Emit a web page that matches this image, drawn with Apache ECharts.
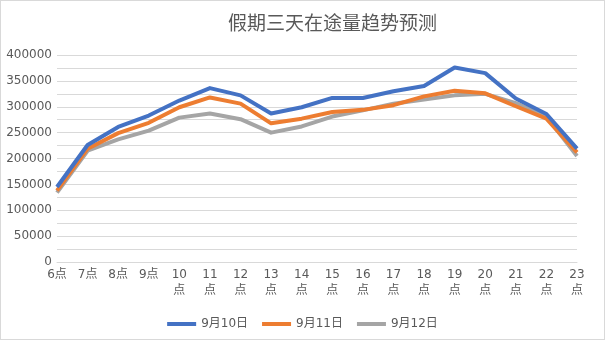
<!DOCTYPE html>
<html>
<head>
<meta charset="utf-8">
<script src="https://cdn.jsdelivr.net/npm/echarts@6/dist/echarts.min.js"></script>
<style>
html,body{margin:0;padding:0;background:#fff;}
#c{width:603px;height:338px;border:1px solid #D9D9D9;}
</style>
</head>
<body>
<div id="c"></div>
<script>
var titleText = '假期三天在途量趋势预测';
var categories = ['6点','7点','8点','9点','10点','11点','12点','13点','14点','15点','16点','17点','18点','19点','20点','21点','22点','23点'];
var seriesNames = ['9月10日','9月11日','9月12日'];
var sep10 = [145000,226000,261000,283000,312000,336000,322000,287000,299000,317000,317000,330000,340000,376000,365000,316000,286000,219000];
var sep11 = [138000,219000,249000,269000,299000,318000,306000,268000,277000,290000,294000,303000,320000,331000,326000,301000,277000,212000];
var sep12 = [134000,215000,237000,254000,279000,287000,276000,250000,262000,281000,293000,306000,314000,322000,325000,307000,281000,205000];
var colors = ['#4472C4','#ED7D31','#A5A5A5'];
var yTicks = {min:0, max:400000, interval:50000};

var chart = echarts.init(document.getElementById('c'));
var font = '"DejaVu Sans", "Noto Sans CJK SC", sans-serif';
var cjk = '"Noto Sans CJK SC", sans-serif';
var data = [sep10, sep11, sep12];
chart.setOption({
  animation:false,
  title:{text:titleText,left:222,top:7,textStyle:{fontFamily:cjk,fontSize:19,fontWeight:'normal',color:'#595959'}},
  grid:{left:56,right:27,top:54,bottom:77},
  legend:{bottom:4,left:'center',itemWidth:29,itemHeight:4,itemGap:14,icon:'rect',
    textStyle:{fontFamily:font,fontSize:12,color:'#595959'},data:seriesNames},
  xAxis:{type:'category',data:categories,boundaryGap:false,
    axisLine:{lineStyle:{color:'#D9D9D9'}},axisTick:{show:false},
    axisLabel:{interval:0,margin:5,fontFamily:font,fontSize:12,color:'#595959',lineHeight:16,
      formatter:function(v){return v.length>2? v.slice(0,v.length-1)+'\n'+v.slice(-1): v;}}},
  yAxis:{type:'value',min:yTicks.min,max:yTicks.max,interval:yTicks.interval,
    axisLine:{show:false},axisTick:{show:false},
    axisLabel:{margin:5,fontFamily:font,fontSize:12,color:'#595959',formatter:function(v){return String(v);}},
    splitLine:{lineStyle:{color:'#D9D9D9'}},
    minorTick:{show:false,splitNumber:2},
    minorSplitLine:{show:true,lineStyle:{color:'#D9D9D9'}}},
  series:seriesNames.map(function(n,i){return {name:n,type:'line',data:data[i],symbol:'none',
    lineStyle:{width:4,color:colors[i],join:'round'},itemStyle:{color:colors[i]},z:3-i};})
});
</script>
</body>
</html>
